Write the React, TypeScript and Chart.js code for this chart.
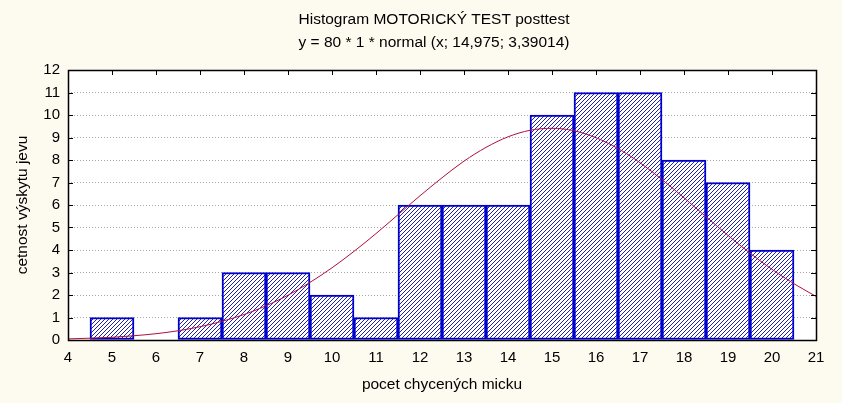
import React, { useEffect, useRef } from "react";
import { Chart, registerables } from "chart.js";

Chart.register(...registerables);

// Histogram bins (class midpoints) and counts
const binCenters = [5, 6, 7, 8, 9, 10, 11, 12, 13, 14, 15, 16, 17, 18, 19, 20];
const binCounts = [1, 0, 1, 3, 3, 2, 1, 6, 6, 6, 10, 11, 11, 8, 7, 4];

// Fitted normal curve at half-unit steps
const curveX = [4, 4.5, 5, 5.5, 6, 6.5, 7, 7.5, 8, 8.5, 9, 9.5, 10, 10.5, 11, 11.5, 12, 12.5, 13, 13.5, 14, 14.5, 15, 15.5, 16, 16.5, 17, 17.5, 18, 18.5, 19, 19.5, 20, 20.5, 21];
const curveY = [0.05, 0.08, 0.12, 0.19, 0.28, 0.41, 0.59, 0.83, 1.13, 1.52, 1.99, 2.56, 3.21, 3.94, 4.73, 5.57, 6.41, 7.21, 7.95, 8.56, 9.03, 9.32, 9.41, 9.3, 8.99, 8.51, 7.88, 7.13, 6.32, 5.48, 4.65, 3.86, 3.14, 2.5, 1.94];

const xTicks = [4, 5, 6, 7, 8, 9, 10, 11, 12, 13, 14, 15, 16, 17, 18, 19, 20, 21];
const yTicks = [0, 1, 2, 3, 4, 5, 6, 7, 8, 9, 10, 11, 12];

const titleLines = ["Histogram MOTORICKÝ TEST posttest", "y = 80 * 1 * normal (x; 14,975; 3,39014)"];
const xTitle = "pocet chycených micku";
const yTitle = "cetnost výskytu jevu";

const BG = "#FDFAF0";
const FONT = "'Liberation Sans', Arial, sans-serif";

function makeHatch(): CanvasPattern | string {
  const c = document.createElement("canvas");
  c.width = 4;
  c.height = 4;
  const g = c.getContext("2d");
  if (!g) return "#ffffff";
  g.fillStyle = "#ffffff";
  g.fillRect(0, 0, 4, 4);
  g.fillStyle = "#2222AA";
  for (let i = 0; i < 4; i++) g.fillRect(i, 3 - i, 1, 1);
  return g.createPattern(c, "repeat") || "#ffffff";
}

const framePlugin = {
  id: "frame",
  beforeDraw(chart: any) {
    const { ctx, width, height, chartArea: a } = chart;
    ctx.save();
    ctx.fillStyle = BG;
    ctx.fillRect(0, 0, width, height);
    ctx.fillStyle = "#ffffff";
    ctx.fillRect(a.left, a.top, a.right - a.left, a.bottom - a.top);
    ctx.restore();
  },
  afterDraw(chart: any) {
    const { ctx, chartArea: a, scales } = chart;
    ctx.save();
    ctx.strokeStyle = "#000000";
    ctx.lineWidth = 1;
    ctx.beginPath();
    const tl = 5;
    xTicks.forEach((v) => {
      const px = Math.round(scales.x.getPixelForValue(v)) + 0.5;
      ctx.moveTo(px, a.top);
      ctx.lineTo(px, a.top + tl);
    });
    yTicks.forEach((v) => {
      const py = Math.round(scales.y.getPixelForValue(v)) + 0.5;
      ctx.moveTo(a.left, py);
      ctx.lineTo(a.left + tl, py);
      ctx.moveTo(a.right, py);
      ctx.lineTo(a.right - tl, py);
    });
    ctx.stroke();
    ctx.lineWidth = 1.5;
    ctx.strokeRect(Math.round(a.left) + 0.5, Math.round(a.top) + 0.5, Math.round(a.right - a.left), Math.round(a.bottom - a.top));
    ctx.restore();
  },
};

export default function App() {
  const ref = useRef<HTMLCanvasElement | null>(null);

  useEffect(() => {
    if (!ref.current) return;
    const hatch = makeHatch();
    const chart = new Chart(ref.current, {
      type: "bar",
      data: {
        datasets: [
          {
            type: "line",
            data: curveX.map((x, i) => ({ x, y: curveY[i] })),
            borderColor: "#B0103C",
            borderWidth: 1,
            pointRadius: 0,
            tension: 0.4,
            cubicInterpolationMode: "monotone",
            order: 0,
          } as any,
          {
            type: "bar",
            data: binCenters.map((x, i) => ({ x, y: binCounts[i] })),
            backgroundColor: hatch as any,
            borderColor: "#0000CC",
            borderWidth: 2,
            borderSkipped: false,
            barPercentage: 1,
            categoryPercentage: 1,
            order: 1,
          } as any,
        ],
      },
      options: {
        responsive: false,
        animation: false,
        devicePixelRatio: 1,
        layout: { padding: { left: 26, right: 0, top: 0, bottom: 0 } },
        plugins: {
          legend: { display: false },
          tooltip: { enabled: false },
          title: {
            display: true,
            text: titleLines,
            color: "#000000",
            font: { family: FONT, size: 15.5, weight: "normal", lineHeight: 23 / 15.5 },
            padding: { top: 8.5, bottom: 15.5 },
          },
        },
        scales: {
          x: {
            type: "linear",
            min: 4,
            max: 21,
            offset: false,
            grid: { display: false, drawTicks: false, offset: false },
            border: { display: false },
            afterBuildTicks: (s: any) => {
              s.ticks = xTicks.map((v) => ({ value: v }));
            },
            ticks: { color: "#000000", font: { family: FONT, size: 15 }, padding: 9, maxRotation: 0, autoSkip: false },
            title: { display: true, text: xTitle, color: "#000000", font: { family: FONT, size: 15.5 }, padding: { top: 0, bottom: 9 } },
            afterFit: (s: any) => {
              s.height = 63;
            },
          },
          y: {
            type: "linear",
            min: 0,
            max: 12,
            grid: { display: true, drawTicks: false, color: "#A8A8A8", lineWidth: 1 },
            border: { display: false, dash: [1, 2] },
            afterBuildTicks: (s: any) => {
              s.ticks = yTicks.map((v) => ({ value: v }));
            },
            ticks: { color: "#000000", font: { family: FONT, size: 15 }, padding: 8 },
            title: { display: true, text: yTitle, color: "#000000", font: { family: FONT, size: 15.5 }, padding: { top: -13, bottom: 0 } },
            afterFit: (s: any) => {
              s.width = 42;
            },
          },
          y2: {
            type: "linear",
            position: "right",
            min: 0,
            max: 12,
            grid: { display: false, drawTicks: false },
            border: { display: false },
            ticks: { display: false },
            afterFit: (s: any) => {
              s.width = 26;
            },
          },
        },
      } as any,
      plugins: [framePlugin],
    });
    return () => chart.destroy();
  }, []);

  return (
    <div style={{ position: "absolute", left: 0, top: 0, width: 842, height: 403, background: BG }}>
      <canvas ref={ref} width={842} height={403} style={{ display: "block", width: 842, height: 403 }} />
    </div>
  );
}
